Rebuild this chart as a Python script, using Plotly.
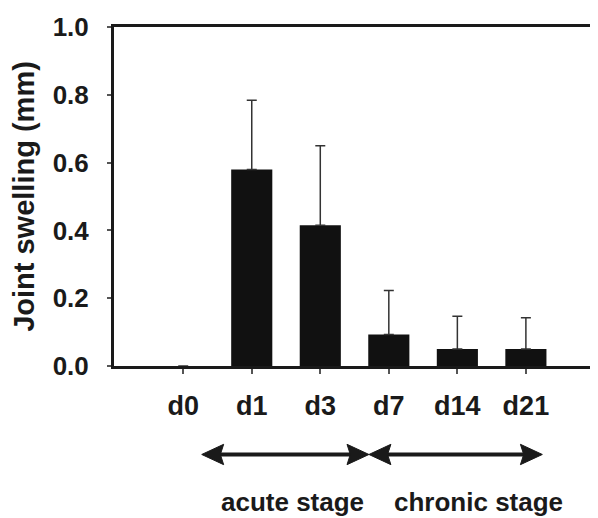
import plotly.graph_objects as go

categories = ["d0", "d1", "d3", "d7", "d14", "d21"]
swelling = [0.0, 0.58, 0.415, 0.093, 0.05, 0.05]
err_upper = [None, 0.204, 0.235, 0.130, 0.097, 0.092]
y_ticks = [0.0, 0.2, 0.4, 0.6, 0.8, 1.0]
y_tick_labels = ["0.0", "0.2", "0.4", "0.6", "0.8", "1.0"]

stage_names = ["acute stage", "chronic stage"]
stage_start = [0.27, 2.71]
stage_end = [2.71, 5.24]
stage_label_x = [1.60, 4.31]

FONT = "Liberation Sans, Arial, sans-serif"
INK = "#1a1a1a"

x_idx = list(range(len(categories)))

fig = go.Figure()
fig.add_trace(go.Bar(
    x=x_idx, y=swelling, width=0.6,
    marker=dict(color="#111111", line=dict(width=0)),
    error_y=dict(type="data", symmetric=False, array=err_upper,
                 arrayminus=[0] * len(err_upper),
                 color="#333333", thickness=1.5, width=5),
    showlegend=False,
))

# double-headed arrows for stages (x in data units, y in paper units)
arrow_y = -0.261
head_len = 0.32   # data units
head_half = 0.03  # paper units
shapes = []
for s, e in zip(stage_start, stage_end):
    shapes.append(dict(type="line", xref="x", yref="paper",
                       x0=s + head_len * 0.6, x1=e - head_len * 0.6,
                       y0=arrow_y, y1=arrow_y,
                       line=dict(color=INK, width=4)))
    left = f"M {s},{arrow_y} L {s + head_len},{arrow_y + head_half} L {s + head_len*0.85},{arrow_y} L {s + head_len},{arrow_y - head_half} Z"
    right = f"M {e},{arrow_y} L {e - head_len},{arrow_y + head_half} L {e - head_len*0.85},{arrow_y} L {e - head_len},{arrow_y - head_half} Z"
    for p in (left, right):
        shapes.append(dict(type="path", xref="x", yref="paper", path=p,
                           fillcolor=INK, line=dict(color=INK, width=1)))

annotations = []
for name, lx in zip(stage_names, stage_label_x):
    annotations.append(dict(x=lx, y=-0.402, xref="x", yref="paper",
                            text=name, showarrow=False,
                            font=dict(family=FONT, size=26, color=INK, weight="bold"),
                            xanchor="center", yanchor="middle"))

fig.update_layout(
    width=590, height=510,
    margin=dict(l=106, r=4, t=17, b=152),
    paper_bgcolor="white", plot_bgcolor="white",
    shapes=shapes, annotations=annotations,
    xaxis=dict(
        range=[-1.01, 5.95], tickmode="array", tickvals=x_idx, ticktext=categories,
        showline=True, linecolor=INK, linewidth=3, mirror=True,
        ticks="outside", ticklen=5, tickwidth=1.5, tickcolor="#555555",
        showgrid=False, zeroline=False,
        tickfont=dict(family=FONT, size=27, color=INK, weight="bold"),
        ticklabelstandoff=9,
    ),
    yaxis=dict(
        range=[0, 1.0], tickmode="array", tickvals=y_ticks, ticktext=y_tick_labels,
        showline=True, linecolor=INK, linewidth=3, mirror=True,
        ticks="outside", ticklen=4, tickwidth=1.5, tickcolor="#555555",
        showgrid=False, zeroline=False,
        tickfont=dict(family=FONT, size=26, color=INK, weight="bold"),
        ticklabelstandoff=13,
        title=dict(text="Joint swelling (mm)", standoff=10,
                   font=dict(family=FONT, size=29, color=INK, weight="bold")),
    ),
)

fig.write_html("out.html")
